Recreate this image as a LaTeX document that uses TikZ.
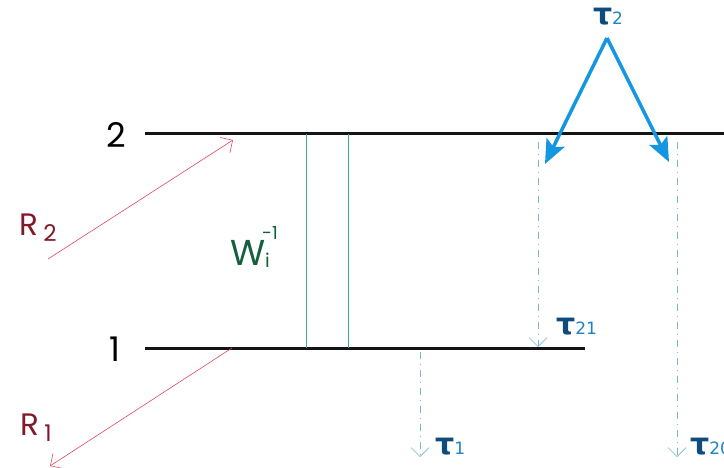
\documentclass[tikz,border=0pt]{standalone}
\usepackage{fontspec}
\setmainfont{Poppins}
\newfontfamily\taufont{DejaVu Sans}
\usetikzlibrary{arrows.meta}
\definecolor{levelc}{RGB}{20,20,20}
\definecolor{rarrow}{RGB}{225,70,100}
\definecolor{rlabel}{RGB}{130,25,40}
\definecolor{wline}{RGB}{60,170,130}
\definecolor{wlabel}{RGB}{20,95,60}
\definecolor{tauarrow}{RGB}{20,150,225}
\definecolor{taulabel}{RGB}{15,75,125}
\definecolor{tausub}{RGB}{30,130,200}
\definecolor{decay}{RGB}{120,185,210}
\tikzset{
  level/.style={line width=3pt, draw=levelc},
  pump/.style={draw=rarrow, line width=0.6pt, -{Straight Barb[length=9pt,width=18pt]}},
  wl/.style={draw=wline, line width=1pt},
  bluearr/.style={draw=tauarrow, line width=3.5pt, -{Stealth[length=24pt,width=20pt,inset=5pt]}, fill=tauarrow},
  decayarr/.style={draw=decay, line width=0.7pt, dash pattern=on 7pt off 5pt on 1pt off 5pt, -{Straight Barb[length=9pt,width=18pt]}},
  lvlnum/.style={font=\fontsize{34}{36}\selectfont, text=black, inner sep=0pt},
  rl/.style={font=\fontsize{31}{32}\selectfont, text=rlabel, inner sep=0pt},
  taul/.style={font=\taufont\fontsize{30}{32}\selectfont\bfseries, text=taulabel, inner sep=0pt}
}
\newcommand{\tsub}[1]{{\fontsize{17}{18}\selectfont\mdseries\color{tausub}#1}}
\begin{document}
\begin{tikzpicture}[x=1pt,y=-1pt]
\useasboundingbox (0,0) rectangle (724,468);
% levels
\coordinate (L2a) at (145,134);
\coordinate (L2b) at (724,134);
\coordinate (L1a) at (145,348);
\coordinate (L1b) at (585,348);
\draw[level] (L2a) -- (L2b);
\draw[level] (L1a) -- (L1b);
\node[lvlnum] (n2) at (116,135) {2};
\node[lvlnum] (n1) at (115,349) {1};
% pumping / loss arrows
\coordinate (R2s) at (48,259);
\coordinate (R2e) at (233,140);
\coordinate (R1s) at (232,348);
\coordinate (R1e) at (50,466);
\draw[pump] (R2s) -- (R2e);
\draw[pump] (R1s) -- (R1e);
\node[rl] (r2) at (38,228) {R\,\raisebox{-0.35ex}{\fontsize{23}{24}\selectfont 2}};
\node[rl] (r1) at (36,428) {R\,\raisebox{-0.35ex}{\fontsize{23}{24}\selectfont 1}};
% W lines
\coordinate (w1t) at (306,134);
\coordinate (w1b) at (306,348);
\coordinate (w2t) at (348,134);
\coordinate (w2b) at (348,348);
\draw[wl] (w1t) -- (w1b);
\draw[wl] (w2t) -- (w2b);
\node[font=\fontsize{36}{38}\selectfont, text=wlabel, inner sep=0pt] (wlab) at (250,254) {W\raisebox{-0.1ex}{\fontsize{19}{20}\selectfont i}};
\node[font=\fontsize{18}{19}\selectfont, text=wlabel, inner sep=0pt] (wexp) at (270,233) {-1};
% tau2 arrows
\node[taul] (t2) at (608,17) {τ\tsub{2}};
\coordinate (apex) at (607,38);
\coordinate (tipL) at (545,164);
\coordinate (tipR) at (669,162);
\draw[bluearr] (apex) -- (tipL);
\draw[bluearr] (apex) -- (tipR);
% decay arrows
\coordinate (d21s) at (538,142);
\coordinate (d21e) at (538,347);
\coordinate (d1s) at (420,352);
\coordinate (d1e) at (420,457);
\coordinate (d20s) at (677,142);
\coordinate (d20e) at (677,457);
\draw[decayarr] (d21s) -- (d21e);
\draw[decayarr] (d1s) -- (d1e);
\draw[decayarr] (d20s) -- (d20e);
\node[taul, anchor=west] (t21) at (556,327) {τ\tsub{21}};
\node[taul, anchor=west] (t1) at (435,447) {τ\tsub{1}};
\node[taul, anchor=west] (t20) at (690,447) {τ\tsub{20}};
\end{tikzpicture}
\end{document}
